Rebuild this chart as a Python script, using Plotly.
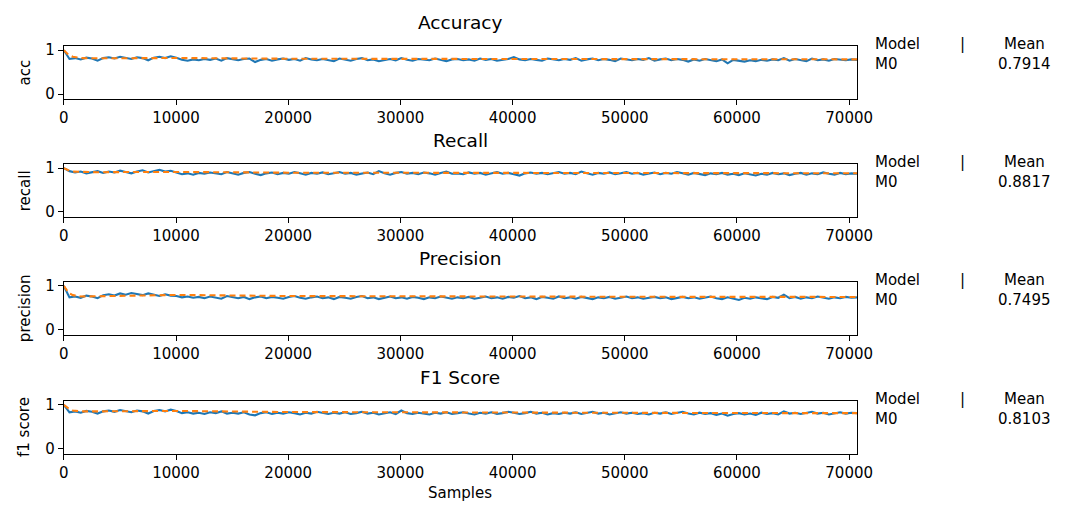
import numpy as np
import plotly.graph_objects as go

W, H = 1074, 508

titles = ["Accuracy", "Recall", "Precision", "F1 Score"]
ylabels = ["acc", "recall", "precision", "f1 score"]
model_names = ["M0", "M0", "M0", "M0"]
mean_texts = ["0.7914", "0.8817", "0.7495", "0.8103"]
xticks = [0, 10000, 20000, 30000, 40000, 50000, 60000, 70000]

n_samples = 70700
sample_x = np.linspace(0, n_samples, 142)

acc = [1.00, 0.80, 0.82, 0.79, 0.83, 0.81, 0.76, 0.82, 0.84, 0.81,
       0.85, 0.82, 0.80, 0.84, 0.82, 0.77, 0.83, 0.85, 0.82, 0.86,
       0.83, 0.78, 0.76, 0.79, 0.77, 0.80, 0.78, 0.81, 0.76, 0.82,
       0.79, 0.77, 0.80, 0.81, 0.73, 0.78, 0.80, 0.76, 0.79, 0.81,
       0.78, 0.80, 0.76, 0.82, 0.79, 0.77, 0.80, 0.78, 0.75, 0.81,
       0.79, 0.76, 0.80, 0.82, 0.77, 0.79, 0.75, 0.78, 0.80, 0.77,
       0.82, 0.78, 0.76, 0.80, 0.79, 0.77, 0.81, 0.78, 0.75, 0.79,
       0.80, 0.77, 0.79, 0.76, 0.81, 0.78, 0.80, 0.76, 0.78, 0.80,
       0.84, 0.79, 0.77, 0.80, 0.78, 0.76, 0.81, 0.79, 0.77, 0.80,
       0.78, 0.82, 0.76, 0.79, 0.81, 0.77, 0.80, 0.78, 0.75, 0.81,
       0.79, 0.77, 0.80, 0.78, 0.82, 0.76, 0.79, 0.81, 0.77, 0.80,
       0.78, 0.74, 0.79, 0.76, 0.80, 0.77, 0.75, 0.79, 0.70, 0.78,
       0.76, 0.74, 0.77, 0.75, 0.78, 0.76, 0.79, 0.77, 0.82, 0.76,
       0.80, 0.78, 0.75, 0.81, 0.77, 0.79, 0.76, 0.80, 0.78, 0.77,
       0.79, 0.78]

recall = [1.00, 0.93, 0.90, 0.92, 0.88, 0.91, 0.93, 0.89, 0.92, 0.90,
          0.94, 0.91, 0.88, 0.92, 0.95, 0.90, 0.93, 0.96, 0.92, 0.94,
          0.90, 0.86, 0.88, 0.85, 0.89, 0.87, 0.90, 0.88, 0.86, 0.91,
          0.88, 0.85, 0.89, 0.91, 0.87, 0.84, 0.88, 0.90, 0.86, 0.89,
          0.87, 0.91, 0.88, 0.85, 0.89, 0.87, 0.90, 0.86, 0.88, 0.91,
          0.87, 0.89, 0.85, 0.88, 0.90, 0.86, 0.93, 0.88, 0.85, 0.89,
          0.91, 0.87, 0.89, 0.86, 0.90, 0.88, 0.85, 0.89, 0.92, 0.87,
          0.88, 0.86, 0.90, 0.87, 0.89, 0.85, 0.88, 0.91, 0.87, 0.89,
          0.86, 0.83, 0.88, 0.90, 0.87, 0.89, 0.86, 0.88, 0.91, 0.87,
          0.89, 0.86, 0.92, 0.88, 0.85, 0.89, 0.87, 0.90, 0.86, 0.88,
          0.91, 0.87, 0.89, 0.85, 0.88, 0.90, 0.86, 0.89, 0.87, 0.91,
          0.88, 0.85, 0.89, 0.87, 0.84, 0.88, 0.86, 0.89, 0.85, 0.87,
          0.84, 0.88, 0.86, 0.83, 0.87, 0.85, 0.89, 0.86, 0.88, 0.84,
          0.87, 0.89, 0.85, 0.88, 0.86, 0.90, 0.87, 0.85, 0.89, 0.86,
          0.88, 0.87]

precision = [1.00, 0.74, 0.76, 0.73, 0.78, 0.76, 0.72, 0.79, 0.81, 0.78,
             0.83, 0.80, 0.84, 0.81, 0.79, 0.83, 0.80, 0.77, 0.81, 0.78,
             0.77, 0.74, 0.76, 0.73, 0.75, 0.72, 0.76, 0.74, 0.71, 0.77,
             0.74, 0.72, 0.75, 0.70, 0.74, 0.76, 0.72, 0.75, 0.73, 0.71,
             0.75, 0.77, 0.73, 0.71, 0.74, 0.76, 0.72, 0.74, 0.70, 0.75,
             0.73, 0.71, 0.75, 0.77, 0.72, 0.74, 0.70, 0.73, 0.76, 0.72,
             0.74, 0.71, 0.75, 0.73, 0.70, 0.74, 0.72, 0.76, 0.73, 0.71,
             0.74, 0.72, 0.75, 0.71, 0.73, 0.76, 0.72, 0.74, 0.71, 0.75,
             0.73, 0.77, 0.72, 0.74, 0.70, 0.75, 0.73, 0.71, 0.76, 0.72,
             0.74, 0.71, 0.75, 0.73, 0.70, 0.74, 0.72, 0.75, 0.71, 0.73,
             0.76, 0.72, 0.74, 0.71, 0.73, 0.75, 0.72, 0.74, 0.70, 0.73,
             0.75, 0.72, 0.74, 0.71, 0.73, 0.76, 0.72, 0.70, 0.74, 0.71,
             0.68, 0.73, 0.71, 0.74, 0.72, 0.70, 0.75, 0.73, 0.80, 0.72,
             0.75, 0.71, 0.74, 0.72, 0.76, 0.73, 0.71, 0.74, 0.72, 0.75,
             0.73, 0.74]

f1 = [1.00, 0.83, 0.85, 0.82, 0.86, 0.84, 0.80, 0.85, 0.87, 0.84,
      0.88, 0.85, 0.83, 0.87, 0.85, 0.80, 0.86, 0.88, 0.85, 0.89,
      0.86, 0.81, 0.83, 0.80, 0.82, 0.79, 0.83, 0.81, 0.85, 0.80,
      0.82, 0.80, 0.83, 0.78, 0.76, 0.81, 0.83, 0.79, 0.82, 0.80,
      0.83, 0.81, 0.78, 0.82, 0.80, 0.84, 0.81, 0.79, 0.82, 0.80,
      0.83, 0.79, 0.81, 0.84, 0.80, 0.82, 0.78, 0.81, 0.83, 0.79,
      0.87, 0.81, 0.79, 0.82, 0.80, 0.78, 0.82, 0.80, 0.83, 0.79,
      0.81, 0.83, 0.80, 0.78, 0.82, 0.80, 0.83, 0.79, 0.81, 0.84,
      0.82, 0.79, 0.81, 0.84, 0.80, 0.82, 0.78, 0.81, 0.79, 0.82,
      0.80, 0.83, 0.79, 0.81, 0.84, 0.80, 0.82, 0.78, 0.81, 0.83,
      0.80, 0.82, 0.79, 0.81, 0.78, 0.82, 0.80, 0.83, 0.79, 0.81,
      0.84, 0.80, 0.78, 0.82, 0.79, 0.81, 0.77, 0.80, 0.75, 0.79,
      0.81, 0.78, 0.80, 0.77, 0.82, 0.79, 0.81, 0.78, 0.85, 0.80,
      0.82, 0.79, 0.81, 0.84, 0.80, 0.82, 0.78, 0.81, 0.83, 0.80,
      0.82, 0.81]

mean_x = [0, 400, 800, 1500, 3000, 6000, 10000, 20000, 30000, 40000, 50000, 60000, 70700]
acc_mean = [1.0, 0.90, 0.85, 0.82, 0.815, 0.82, 0.822, 0.805, 0.80, 0.797, 0.795, 0.792, 0.7914]
recall_mean = [1.0, 0.95, 0.92, 0.91, 0.905, 0.91, 0.912, 0.895, 0.89, 0.888, 0.886, 0.883, 0.8817]
precision_mean = [1.0, 0.85, 0.79, 0.76, 0.765, 0.785, 0.795, 0.77, 0.76, 0.755, 0.753, 0.750, 0.7495]
f1_mean = [1.0, 0.92, 0.87, 0.85, 0.85, 0.86, 0.86, 0.835, 0.825, 0.82, 0.816, 0.812, 0.8103]

current = [acc, recall, precision, f1]
means = [acc_mean, recall_mean, precision_mean, f1_mean]

BLUE = "#1f77b4"
ORANGE = "#ff7f0e"
FONT = "DejaVu Sans"
TICK_SIZE = 15
LABEL_SIZE = 15
TITLE_SIZE = 18.5

left_px, right_px = 60, 869
tops_px = [42, 162, 282, 403]
plot_h = 54

def px_x(x):
    return x / W

def px_y(y):
    return 1 - y / H

fig = go.Figure()
layout = dict(
    width=W, height=H,
    margin=dict(l=0, r=0, t=0, b=0),
    paper_bgcolor="white", plot_bgcolor="white",
    showlegend=False,
    font=dict(family=FONT, size=TICK_SIZE, color="black"),
)
annotations = []

for i in range(4):
    sfx = "" if i == 0 else str(i + 1)
    xa, ya = "x" + sfx, "y" + sfx
    fig.add_trace(go.Scatter(x=sample_x, y=current[i], mode="lines",
                             line=dict(color=BLUE, width=2.1),
                             xaxis=xa, yaxis=ya))
    fig.add_trace(go.Scatter(x=mean_x, y=means[i], mode="lines",
                             line=dict(color=ORANGE, width=2.1, dash="6px,4px"),
                             xaxis=xa, yaxis=ya))
    top, bot = tops_px[i], tops_px[i] + plot_h
    layout["xaxis" + sfx] = dict(
        domain=[px_x(left_px), px_x(right_px)], anchor=ya,
        range=[0, n_samples], tickvals=xticks, ticktext=[str(t) for t in xticks],
        showline=True, linecolor="black", linewidth=1.2, mirror=True,
        ticks="outside", ticklen=5, tickwidth=1.2, tickcolor="black",
        showgrid=False, zeroline=False,
        tickfont=dict(family=FONT, size=TICK_SIZE, color="black"),
    )
    layout["yaxis" + sfx] = dict(
        domain=[px_y(bot), px_y(top)], anchor=xa,
        range=[-0.12, 1.09], tickvals=[0, 1], ticktext=["0", "1"],
        showline=True, linecolor="black", linewidth=1.2, mirror=True,
        ticks="outside", ticklen=5, tickwidth=1.2, tickcolor="black",
        showgrid=False, zeroline=False,
        tickfont=dict(family=FONT, size=TICK_SIZE, color="black"),
    )
    annotations.append(dict(text=titles[i], x=px_x((left_px + right_px) / 2), y=px_y(top - 24),
                            xref="paper", yref="paper", xanchor="center", yanchor="middle",
                            showarrow=False, font=dict(family=FONT, size=TITLE_SIZE, color="black")))
    annotations.append(dict(text=ylabels[i], x=px_x(20), y=px_y(top + plot_h / 2),
                            xref="paper", yref="paper", xanchor="center", yanchor="middle",
                            textangle=-90, showarrow=False,
                            font=dict(family=FONT, size=LABEL_SIZE, color="black")))
    for txt, xx, yy, anc in [("Model", 885, top - 2, "left"), ("|", 977, top - 2, "center"),
                             ("Mean", 1040, top - 2, "center"),
                             (model_names[i], 885, top + 18, "left"),
                             (mean_texts[i], 1040, top + 18, "center")]:
        annotations.append(dict(text=txt, x=px_x(xx), y=px_y(yy), xref="paper", yref="paper",
                                xanchor=anc, yanchor="middle", showarrow=False,
                                font=dict(family=FONT, size=LABEL_SIZE, color="black")))

annotations.append(dict(text="Samples", x=px_x((left_px + right_px) / 2), y=px_y(497),
                        xref="paper", yref="paper", xanchor="center", yanchor="middle",
                        showarrow=False, font=dict(family=FONT, size=LABEL_SIZE, color="black")))
layout["annotations"] = annotations
fig.update_layout(**layout)
fig.write_html("out.html", post_script="document.body.style.margin='0';")
